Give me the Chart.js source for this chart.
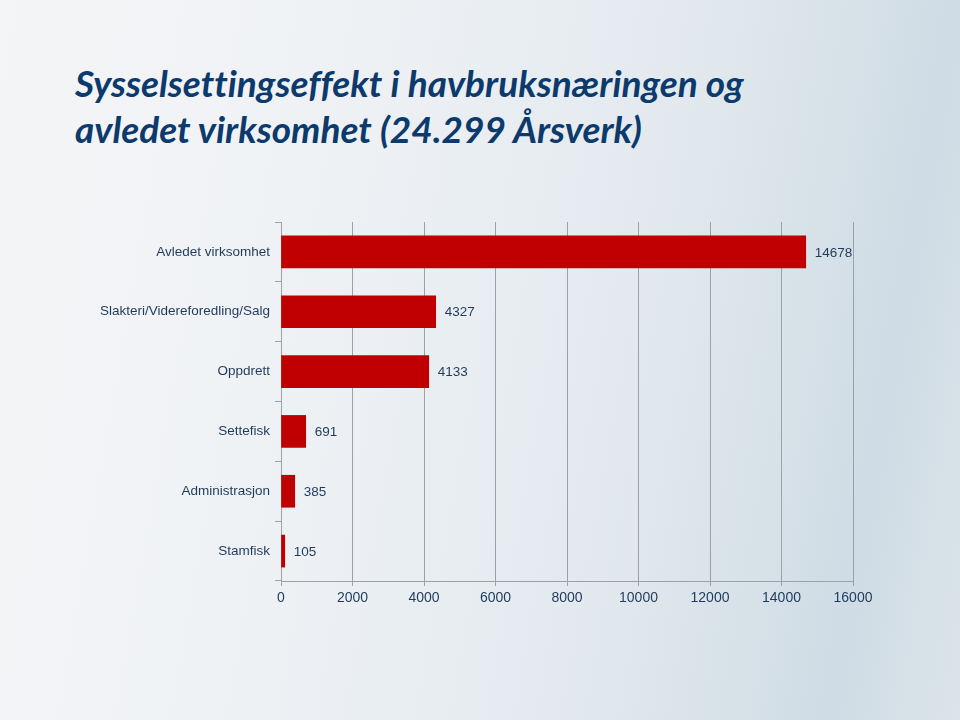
<!DOCTYPE html>
<html>
<head>
<meta charset="utf-8">
<script src="https://cdn.jsdelivr.net/npm/chart.js@4/dist/chart.umd.min.js"></script>
<style>
    html, body {
        margin: 0;
        padding: 0;
    }
    body {
        width: 960px;
        height: 720px;
        position: relative;
        overflow: hidden;
        background: linear-gradient(100deg, #f4f5f7 0%, #eef1f4 35%, #e2e9ee 65%, #cfdce5 88%, #dbe4ea 100%);
    }
    #title {
        position: absolute;
        left: 75px;
        top: 60px;
        margin: 0;
        font-family: Lato, "Open Sans", sans-serif;
        font-style: italic;
        font-weight: bold;
        font-size: 37px;
        line-height: 46px;
        font-variant-ligatures: none;
        color: #0c3a6c;
    }
    #wrap {
        position: absolute;
        left: 0;
        top: 0;
        width: 960px;
        height: 720px;
    }
</style>
</head>
<body>
<h1 id="title">Sysselsettingseffekt i havbruksnæringen og<br>avledet virksomhet (24.299 Årsverk)</h1>
<div id="wrap"><canvas id="Chart"></canvas></div>
<script>
//Chart data
let categories = ['Avledet virksomhet', 'Slakteri/Videreforedling/Salg', 'Oppdrett', 'Settefisk', 'Administrasjon', 'Stamfisk'];
let values = [14678, 4327, 4133, 691, 385, 105];
let xTicks = [0, 2000, 4000, 6000, 8000, 10000, 12000, 14000, 16000];

let textColor = '#1f3a5c';
let gridColor = '#9ca1a8';
let fontFamily = '"Liberation Sans", Arial, sans-serif';

//Writes the value just past the end of each bar.
let valueLabels = {
    id: 'valueLabels',
    afterDatasetsDraw: function (chart) {
        let ctx = chart.ctx;
        let meta = chart.getDatasetMeta(0);
        ctx.save();
        ctx.font = '13.5px ' + fontFamily;
        ctx.fillStyle = textColor;
        ctx.textAlign = 'left';
        ctx.textBaseline = 'middle';
        meta.data.forEach(function (bar, i) {
            ctx.fillText(String(values[i]), bar.x + 9, bar.y + 1);
        });
        ctx.restore();
    }
};

let config = {
    type: 'bar',
    data: {
        labels: categories,
        datasets: [{
            data: values,
            backgroundColor: '#c00000',
            borderWidth: 0,
            barThickness: 32
        }]
    },
    options: {
        indexAxis: 'y',
        responsive: true,
        maintainAspectRatio: false,
        animation: false,
        layout: {
            padding: {top: 222, right: 107, bottom: 0, left: 0}
        },
        plugins: {
            legend: {display: false},
            tooltip: {enabled: false}
        },
        scales: {
            x: {
                min: 0,
                max: 16000,
                afterBuildTicks: function (axis) {
                    axis.ticks = xTicks.map(function (v) { return {value: v}; });
                },
                afterFit: function (axis) {
                    axis.height = 139;
                },
                grid: {
                    color: gridColor,
                    lineWidth: 1,
                    tickLength: 5,
                    drawOnChartArea: true
                },
                border: {color: gridColor, width: 1},
                ticks: {
                    color: textColor,
                    padding: 4,
                    maxRotation: 0,
                    autoSkip: false,
                    font: {family: fontFamily, size: 14},
                    callback: function (value) {
                        return String(value);
                    }
                }
            },
            y: {
                afterFit: function (axis) {
                    axis.width = 281;
                },
                grid: {
                    color: gridColor,
                    drawOnChartArea: false,
                    tickLength: 6,
                    offset: true
                },
                border: {color: gridColor, width: 1},
                ticks: {
                    color: textColor,
                    padding: 5,
                    font: {family: fontFamily, size: 13.5}
                }
            }
        }
    },
    plugins: [valueLabels]
};

window.onload = function () {
    window.myBar = new Chart(document.getElementById('Chart').getContext('2d'), config);
};
</script>
</body>
</html>
